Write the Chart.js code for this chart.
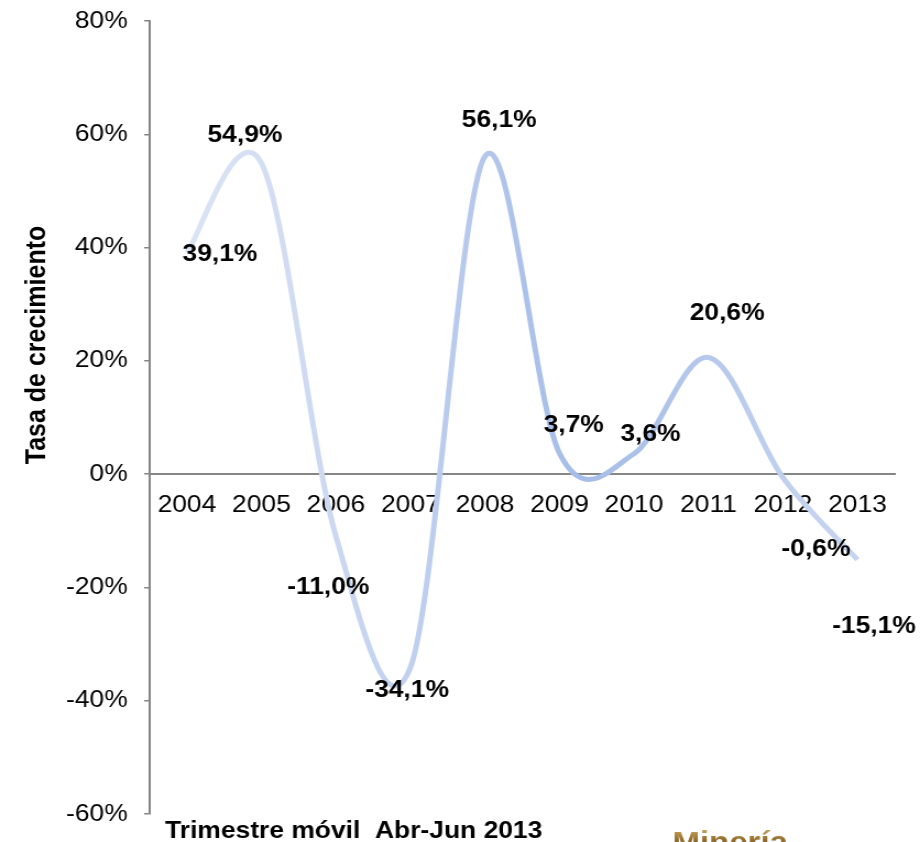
<!DOCTYPE html>
<html>
<head>
<meta charset="utf-8">
<script src="https://cdn.jsdelivr.net/npm/chart.js@4.4.0/dist/chart.umd.min.js"></script>
<style>
  html, body { margin: 0; padding: 0; background: #fff; overflow: hidden; }
  /* the original picture is stretched a little in width */
  #wrap { width: 836px; height: 842px; transform: scaleX(1.1005); transform-origin: 0 0; position: relative; }
</style>
</head>
<body>
<div id="wrap"><canvas id="growth-chart"></canvas></div>
<script>
const years = ['2004', '2005', '2006', '2007', '2008', '2009', '2010', '2011', '2012', '2013'];
const growth = [39.1, 54.9, -11.0, -34.1, 56.1, 3.7, 3.6, 20.6, -0.6, -15.1];
const yMin = -60;
const yMax = 80;
const yStep = 20;
const yTitle = 'Tasa de crecimiento';
const footnote = 'Trimestre móvil  Abr-Jun 2013';
const watermark = 'Minería';

// where each data label sits relative to its point (px)
const labelShift = [[30, 2], [-15, -28], [-7, 51], [-3, 23], [13, -36], [13, -28], [15, -19], [17, -44], [30, 72], [15, 67]];

const FONT = "'Liberation Sans', Arial, sans-serif";

// Excel-like smoothing: catmull-rom control points
const excelSmooth = {
  id: 'excelSmooth',
  beforeDatasetDraw(chart, args) {
    const meta = args.meta;
    const line = meta.dataset;
    if (line.updateControlPoints) line.updateControlPoints(chart.chartArea, 'x');
    const pts = meta.data;
    for (let i = 0; i < pts.length; i++) {
      const p = pts[i];
      const prev = pts[Math.max(i - 1, 0)];
      const next = pts[Math.min(i + 1, pts.length - 1)];
      const dx = (next.x - prev.x) / 6;
      const dy = (next.y - prev.y) / 6;
      p.cp1x = p.x - dx; p.cp1y = p.y - dy;
      p.cp2x = p.x + dx; p.cp2y = p.y + dy;
    }
    line._path = undefined;
  }
};

const extras = {
  id: 'extras',
  afterDatasetsDraw(chart) {
    const ctx = chart.ctx;
    const pts = chart.getDatasetMeta(0).data;
    ctx.save();
    ctx.fillStyle = '#000';
    ctx.font = 'bold 24px ' + FONT;
    ctx.textAlign = 'center';
    ctx.textBaseline = 'middle';
    pts.forEach((p, i) => {
      const txt = growth[i].toFixed(1).replace('.', ',') + '%';
      ctx.fillText(txt, p.x + labelShift[i][0], p.y + labelShift[i][1]);
    });
    ctx.restore();
  },
  afterDraw(chart) {
    const ctx = chart.ctx;
    ctx.save();
    // y title
    ctx.translate(34, 345);
    ctx.rotate(-Math.PI / 2);
    ctx.font = 'bold 25px ' + FONT;
    ctx.fillStyle = '#000';
    ctx.textAlign = 'center';
    ctx.textBaseline = 'middle';
    ctx.fillText(yTitle, 0, 0);
    ctx.restore();

    ctx.save();
    ctx.font = 'bold 24px ' + FONT;
    ctx.fillStyle = '#000';
    ctx.textAlign = 'left';
    ctx.textBaseline = 'alphabetic';
    ctx.fillText(footnote, 150, 838);

    const g = ctx.createLinearGradient(0, 826, 0, 852);
    g.addColorStop(0, '#d9b872');
    g.addColorStop(0.5, '#96712f');
    g.addColorStop(1, '#5e4318');
    ctx.fillStyle = g;
    ctx.font = 'bold 30px ' + FONT;
    ctx.fillText(watermark, 611, 852);
    ctx.restore();
  }
};

function lineGradient(context) {
  const chart = context.chart;
  const area = chart.chartArea;
  if (!area) return '#b7c9ec';
  const g = chart.ctx.createLinearGradient(area.left, 0, area.right, 0);
  g.addColorStop(0.00, '#dde6f5');
  g.addColorStop(0.15, '#d5dff3');
  g.addColorStop(0.35, '#c0d0ef');
  g.addColorStop(0.50, '#adc2ea');
  g.addColorStop(0.58, '#a5bde8');
  g.addColorStop(0.72, '#b3c6eb');
  g.addColorStop(0.88, '#c3d2ef');
  g.addColorStop(1.00, '#cbd7f0');
  return g;
}

const ctx = document.getElementById('growth-chart').getContext('2d');

new Chart(ctx, {
  type: 'line',
  data: {
    labels: years,
    datasets: [{
      data: growth,
      borderColor: lineGradient,
      borderWidth: 5,
      pointRadius: 0,
      pointHoverRadius: 0,
      tension: 0.3,
      fill: false
    }]
  },
  plugins: [excelSmooth, extras],
  options: {
    responsive: true,
    maintainAspectRatio: false,
    animation: false,
    layout: {
      padding: { top: 21, right: 23, bottom: 28, left: 0 }
    },
    plugins: {
      legend: { display: false },
      tooltip: { enabled: false }
    },
    scales: {
      x: {
        type: 'category',
        offset: true,
        position: { y: 0 },
        grid: { display: false, drawTicks: false },
        border: { display: true, color: '#868686', width: 2 },
        ticks: {
          color: '#000',
          font: { family: FONT, size: 24 },
          padding: 17,
          maxRotation: 0,
          autoSkip: false
        },
        afterFit(scale) {
          scale.paddingLeft = 0; scale.paddingRight = 0;
          scale.paddingTop = 0; scale.paddingBottom = 0;
        }
      },
      y: {
        min: yMin,
        max: yMax,
        grid: { display: true, drawOnChartArea: false, drawTicks: true, tickLength: 5, color: '#868686', lineWidth: 1.5 },
        border: { display: true, color: '#868686', width: 2 },
        ticks: {
          stepSize: yStep,
          color: '#000',
          font: { family: FONT, size: 24 },
          padding: 15,
          callback: v => v + '%'
        },
        afterFit(scale) {
          scale.width = 136;
          scale.paddingTop = 0; scale.paddingBottom = 0;
        }
      }
    }
  }
});
</script>
</body>
</html>
